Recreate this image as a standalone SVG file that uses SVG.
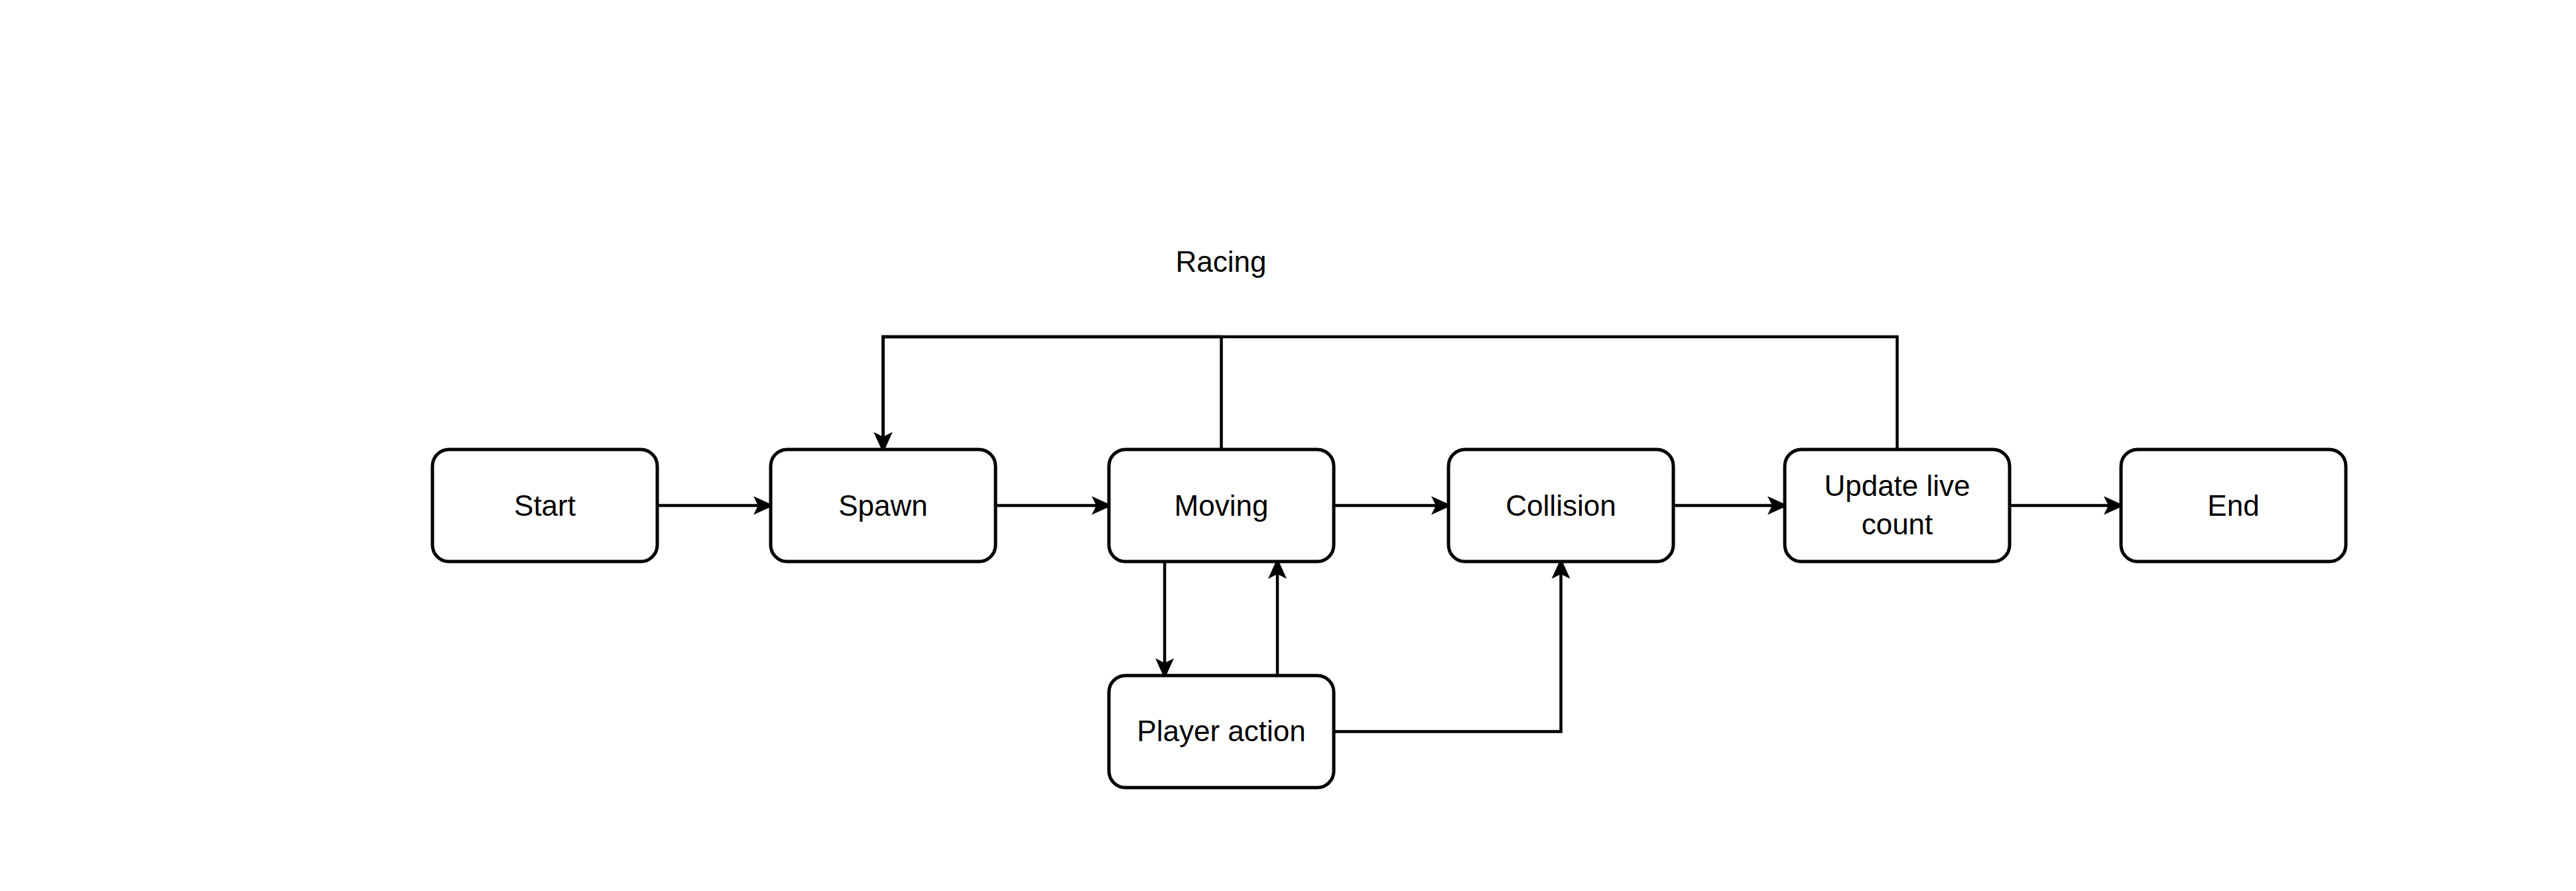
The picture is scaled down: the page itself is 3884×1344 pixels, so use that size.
<svg xmlns="http://www.w3.org/2000/svg" width="3884" height="1344" viewBox="0 0 3884 1344">
  <style>
    .box { fill: #ffffff; stroke: #000000; stroke-width: 5; }
    .lbl { font-family: "Liberation Sans", Arial, sans-serif; font-size: 44px; fill: #000000; text-anchor: middle; }
    .edge { fill: none; stroke: #000000; stroke-width: 4.5; marker-end: url(#arrow); }
  </style>
  <defs>
    <marker id="arrow" markerUnits="userSpaceOnUse" markerWidth="32" markerHeight="30" viewBox="0 0 32 30" refX="7" refY="15" orient="auto">
      <path d="M0,1 L31,15 L0,29 L7,15 Z" fill="#000000"/>
    </marker>
  </defs>
  <rect width="3884" height="1344" fill="#ffffff"/>

  <text class="lbl" x="1841" y="410">Racing</text>

  <g id="connectors">
    <path class="edge" d="M992,762.5 H1143"/>
    <path class="edge" d="M1502,762.5 H1653"/>
    <path class="edge" d="M2011,762.5 H2165"/>
    <path class="edge" d="M2523,762.5 H2672"/>
    <path class="edge" d="M3030,762.5 H3179"/>
    <path class="edge" d="M1841.5,678 V508 H1331.5 V659"/>
    <path class="edge" d="M2860.5,678 V508 H1331.5 V659"/>
    <path class="edge" d="M1756,847 V1000"/>
    <path class="edge" d="M1926,1019 V866"/>
    <path class="edge" d="M2011,1103.5 H2353.5 V866"/>
  </g>

  <g id="start">
    <rect class="box" x="652" y="678" width="339" height="169" rx="25" ry="25"/>
    <text class="lbl" x="821.5" y="778">Start</text>
  </g>
  <g id="spawn">
    <rect class="box" x="1162" y="678" width="339" height="169" rx="25" ry="25"/>
    <text class="lbl" x="1331.5" y="778">Spawn</text>
  </g>
  <g id="moving">
    <rect class="box" x="1672" y="678" width="339" height="169" rx="25" ry="25"/>
    <text class="lbl" x="1841.5" y="778">Moving</text>
  </g>
  <g id="collision">
    <rect class="box" x="2184" y="678" width="339" height="169" rx="25" ry="25"/>
    <text class="lbl" x="2353.5" y="778">Collision</text>
  </g>
  <g id="update">
    <rect class="box" x="2691" y="678" width="339" height="169" rx="25" ry="25"/>
    <text class="lbl" x="2860.5" y="748">Update live</text>
    <text class="lbl" x="2860.5" y="805.5">count</text>
  </g>
  <g id="end">
    <rect class="box" x="3198" y="678" width="339" height="169" rx="25" ry="25"/>
    <text class="lbl" x="3367.5" y="778">End</text>
  </g>
  <g id="player-action">
    <rect class="box" x="1672" y="1019" width="339" height="169" rx="25" ry="25"/>
    <text class="lbl" x="1841.5" y="1118">Player action</text>
  </g>
</svg>
